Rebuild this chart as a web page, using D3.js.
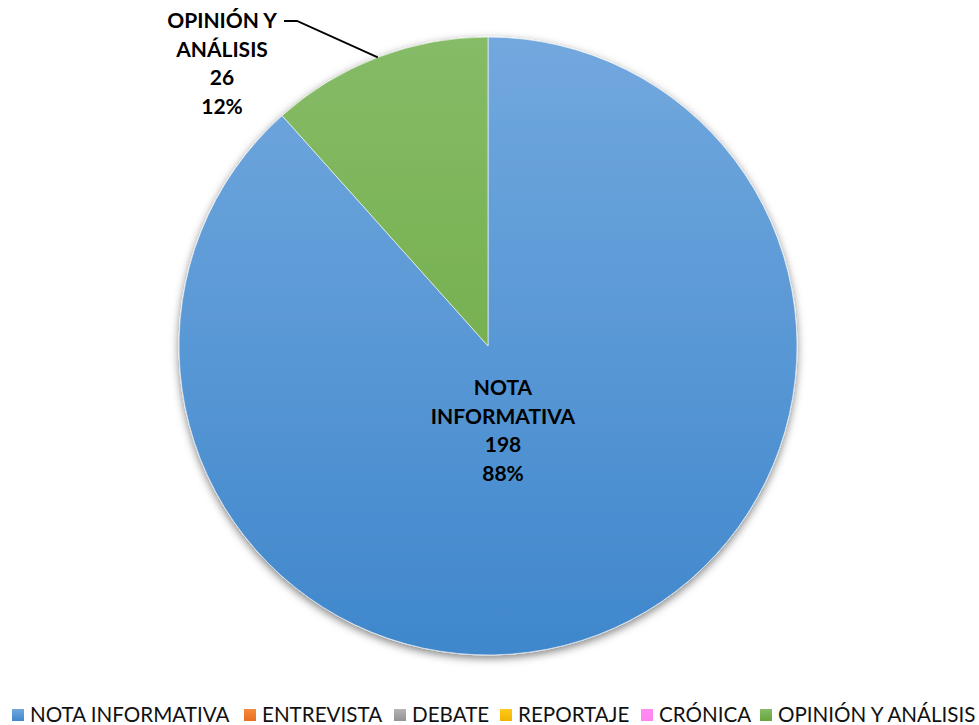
<!DOCTYPE html>
<html>
<head>
<meta charset="utf-8">
<script src="https://cdn.jsdelivr.net/npm/d3@7"></script>
<style>
  html, body { margin: 0; padding: 0; background: #fff; }
  svg { display: block; }
</style>
</head>
<body>
<svg id="chart" width="979" height="725"></svg>
<script>
// Genres of published pieces and their counts
const categories = ["NOTA INFORMATIVA", "ENTREVISTA", "DEBATE", "REPORTAJE", "CRÓNICA", "OPINIÓN Y ANÁLISIS"];
const values = [198, 0, 0, 0, 0, 26];
const colorsTop = ["#72a8de", "#f58a3c", "#b4b4b4", "#ffc91a", "#ff8cf2", "#86bb67"];
const colorsBottom = ["#3f87cc", "#e8701f", "#939393", "#f0b400", "#ff84f0", "#66a63a"];

const W = 979, H = 725;
const cx = 488, cy = 346, R = 309;
const font = "Lato, 'Open Sans', sans-serif";

const svg = d3.select("#chart");
const defs = svg.append("defs");

// Vertical gradient per category, light at the top, darker at the bottom
categories.forEach((c, i) => {
  const g = defs.append("linearGradient")
    .attr("id", "grad" + i)
    .attr("gradientUnits", "userSpaceOnUse")
    .attr("x1", 0).attr("y1", -R).attr("x2", 0).attr("y2", R);
  g.append("stop").attr("offset", "0%").attr("stop-color", colorsTop[i]);
  g.append("stop").attr("offset", "100%").attr("stop-color", colorsBottom[i]);
});
const legGrad = categories.map((c, i) => {
  const g = defs.append("linearGradient")
    .attr("id", "lgrad" + i).attr("x1", 0).attr("y1", 0).attr("x2", 0).attr("y2", 1);
  g.append("stop").attr("offset", "0%").attr("stop-color", colorsTop[i]);
  g.append("stop").attr("offset", "100%").attr("stop-color", colorsBottom[i]);
  return "url(#lgrad" + i + ")";
});

const shadow = defs.append("filter").attr("id", "shadow")
  .attr("x", "-10%").attr("y", "-10%").attr("width", "120%").attr("height", "120%");
shadow.append("feDropShadow")
  .attr("dx", 0).attr("dy", 3).attr("stdDeviation", 4)
  .attr("flood-color", "#000").attr("flood-opacity", 0.5);

const data = categories.map((c, i) => ({ name: c, value: values[i], idx: i }));
const total = d3.sum(values);

const pie = d3.pie().value(d => d.value).sort(null);
const arc = d3.arc().innerRadius(0).outerRadius(R);
const arcs = pie(data);

const g = svg.append("g").attr("transform", `translate(${cx},${cy})`);
g.append("g").attr("filter", "url(#shadow)")
  .selectAll("path")
  .data(arcs.filter(a => a.data.value > 0))
  .join("path")
  .attr("d", arc)
  .attr("fill", d => `url(#grad${d.data.idx})`)
  .attr("stroke", "#fff")
  .attr("stroke-width", 0.6);

const pct = v => Math.round(v / total * 100) + "%";

function label(lines, x, y0, step) {
  const t = svg.append("text")
    .attr("font-family", font).attr("font-weight", "bold")
    .attr("font-size", 21).attr("fill", "#000").attr("text-anchor", "middle");
  lines.forEach((s, k) => {
    t.append("tspan").attr("x", x).attr("y", y0 + k * step).text(s);
  });
}

// Inner label for the large slice
const big = arcs[0];
label(["NOTA", "INFORMATIVA", String(big.data.value), pct(big.data.value)], 503, 395, 28.5);

// Outside label with leader line to the middle of the small slice's rim
const small = arcs[5];
const mid = (small.startAngle + small.endAngle) / 2;
const leaderEnd = d3.arc().innerRadius(R).outerRadius(R).centroid({ startAngle: mid, endAngle: mid });
label(["OPINIÓN Y", "ANÁLISIS", String(small.data.value), pct(small.data.value)], 222, 28, 28.5);
svg.append("path")
  .attr("d", d3.line()([[284, 21], [297, 21], [cx + leaderEnd[0], cy + leaderEnd[1]]]))
  .attr("fill", "none").attr("stroke", "#000").attr("stroke-width", 1.8);

// Legend
const legX = [12, 244, 394, 500, 641, 760];
const leg = svg.append("g");
data.forEach((d, i) => {
  leg.append("rect")
    .attr("x", legX[i]).attr("y", 709).attr("width", 12).attr("height", 12)
    .attr("fill", legGrad[i]);
  leg.append("text")
    .attr("x", legX[i] + 18).attr("y", 722)
    .attr("font-family", font).attr("font-size", 20.6).attr("fill", "#111")
    .text(d.name);
});
</script>
</body>
</html>
